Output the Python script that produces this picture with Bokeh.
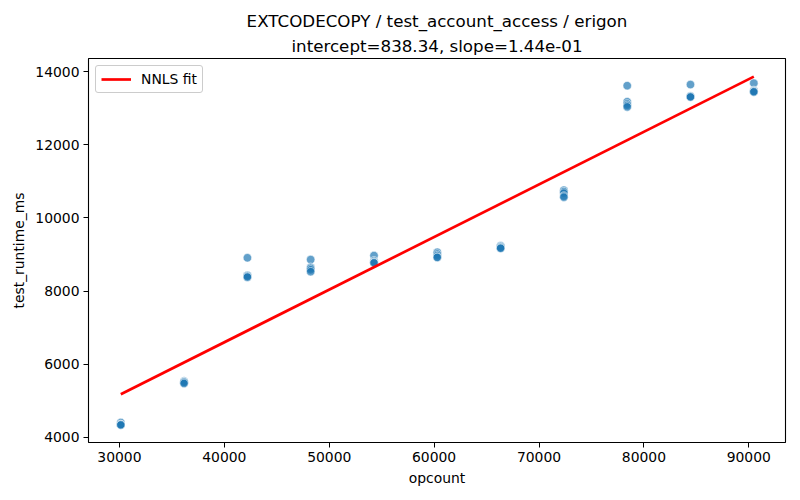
from bokeh.plotting import figure
from bokeh.models import ColumnDataSource, Title, FixedTicker, Range1d, Legend, LegendItem
from bokeh.embed import file_html
from bokeh.resources import INLINE

# ---- data ----
opcount_levels = [30130, 36160, 42200, 48230, 54270, 60300, 66340, 72370, 78410, 84440, 90480]
runtime_ms = [
    [4400, 4350, 4340, 4345, 4335],
    [5540, 5520, 5510, 5500, 5470],
    [8910, 8430, 8420, 8400, 8380],
    [8860, 8650, 8620, 8580, 8530],
    [8970, 8830, 8800, 8780, 8770],
    [9060, 9010, 8970, 8930, 8920],
    [9240, 9220, 9200, 9180, 9170],
    [10760, 10720, 10680, 10600, 10570],
    [13620, 13180, 13120, 13080, 13040],
    [13650, 13340, 13330, 13320, 13310],
    [13690, 13490, 13470, 13460, 13450],
]
intercept = 838.34
slope = 1.44e-01
x_ticks = [30000, 40000, 50000, 60000, 70000, 80000, 90000]
y_ticks = [4000, 6000, 8000, 10000, 12000, 14000]
title_line1 = "EXTCODECOPY / test_account_access / erigon"
title_line2 = "intercept=838.34, slope=1.44e-01"

xs, ys = [], []
for xv, vals in zip(opcount_levels, runtime_ms):
    for v in vals:
        xs.append(xv)
        ys.append(v)
pts = ColumnDataSource(dict(x=xs, y=ys))
fit_x = [min(opcount_levels), max(opcount_levels)]
fit = ColumnDataSource(dict(x=fit_x, y=[intercept + slope * v for v in fit_x]))

FONT = "DejaVu Sans"
p = figure(width=792, height=492, output_backend="svg", toolbar_location=None,
           x_range=Range1d(27050, 93500), y_range=Range1d(3855, 14364),
           min_border_left=88, min_border_right=7, min_border_top=58, min_border_bottom=50,
           title=None)
p.background_fill_color = "white"
p.border_fill_color = "white"
p.outline_line_color = "black"
p.outline_line_width = 1.1
p.xgrid.visible = False
p.ygrid.visible = False

t2 = Title(text=title_line2, align="center", text_font=FONT, text_font_size="16.7px",
           text_font_style="normal", text_color="black", standoff=6, offset=0)
t1 = Title(text=title_line1, align="center", text_font=FONT, text_font_size="16.7px",
           text_font_style="normal", text_color="black", standoff=0, offset=0)
p.add_layout(t2, "above")
p.add_layout(t1, "above")

p.scatter("x", "y", source=pts, size=8.5, fill_color="#1f77b4", fill_alpha=0.7,
          line_color="white", line_alpha=0.7, line_width=0.8)
r = p.line("x", "y", source=fit, line_color="red", line_width=2.7)

legend = Legend(items=[LegendItem(label="NNLS fit", renderers=[r])], location="top_left")
legend.label_text_font = FONT
legend.label_text_font_size = "13.9px"
legend.label_text_color = "black"
legend.border_line_color = "#cccccc"
legend.border_line_alpha = 1.0
legend.border_radius = 3
legend.glyph_width = 30
legend.glyph_height = 14
legend.padding = 5
legend.margin = 7
legend.spacing = 0
legend.label_standoff = 10
p.add_layout(legend)

for ax, ticks, lab in ((p.xaxis[0], x_ticks, "opcount"), (p.yaxis[0], y_ticks, "test_runtime_ms")):
    ax.ticker = FixedTicker(ticks=ticks)
    ax.axis_label = lab
    ax.axis_label_text_font = FONT
    ax.axis_label_text_font_size = "13.9px"
    ax.axis_label_text_font_style = "normal"
    ax.axis_label_text_color = "black"
    ax.major_label_text_font = FONT
    ax.major_label_text_font_size = "13.9px"
    ax.major_label_text_color = "black"
    ax.minor_tick_line_color = None
    ax.major_tick_in = 0
    ax.major_tick_out = 5
    ax.major_tick_line_color = "black"
    ax.axis_line_color = None
    ax.major_label_standoff = 4
    ax.axis_label_standoff = 5
p.xaxis[0].formatter.use_scientific = False
p.yaxis[0].formatter.use_scientific = False

open("out.html", "w").write(file_html(p, INLINE))
